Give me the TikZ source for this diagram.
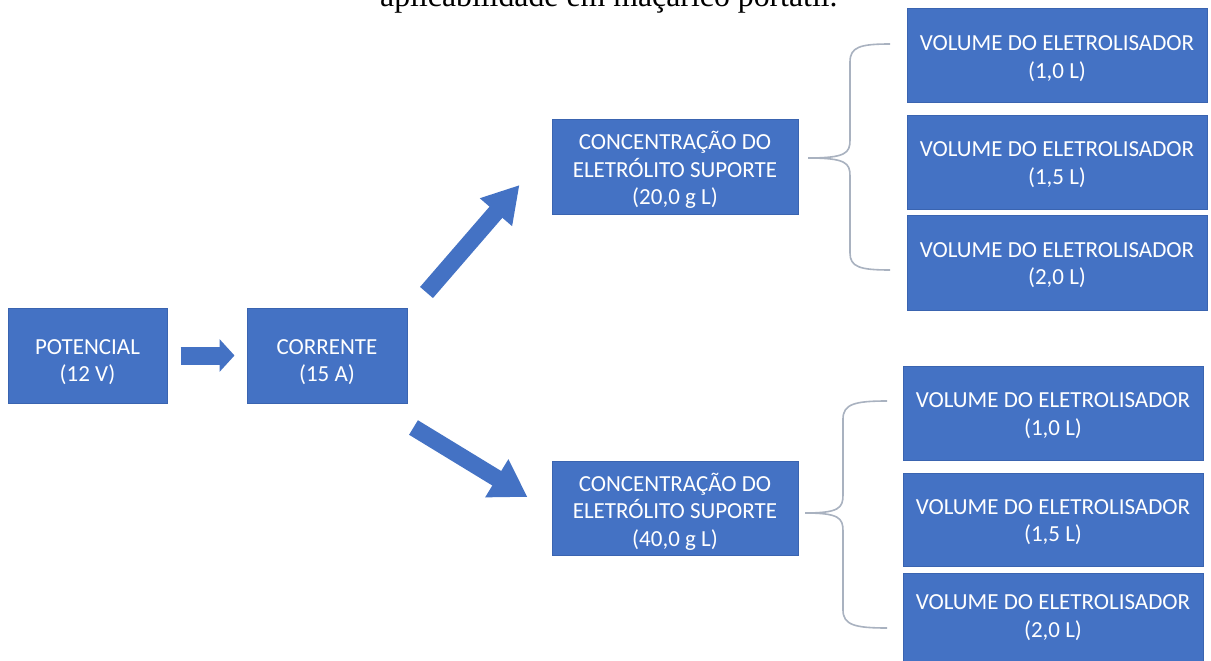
\documentclass[tikz,border=0pt]{standalone}
\usepackage{fontspec}
\setmainfont{Carlito}
\newfontfamily\titlefont{Liberation Serif}
\usetikzlibrary{arrows.meta,calc}
\definecolor{boxblue}{HTML}{4472C4}
\definecolor{boxedge}{HTML}{3A64B0}
\definecolor{bracegray}{HTML}{A9B2C0}
\newcommand{\boxtext}[2][-5pt]{\raisebox{#1}[\height][\depth]{\begin{tabular}{@{}c@{}}#2\end{tabular}}}
\tikzset{
  box/.style={fill=boxblue, draw=boxedge, line width=1pt, text=white, align=center,
    inner sep=0pt, font=\fontsize{23}{27.5}\selectfont},
  barrow/.style={draw=boxblue, line width=17pt},
  bracestyle/.style={draw=bracegray, line width=1.6pt},
}
\begin{document}
\begin{tikzpicture}[x=1pt,y=-1pt]
\useasboundingbox (0,0) rectangle (1211,661);
\fill[white] (0,0) rectangle (1211,661);
\begin{scope}
\clip (0,0) rectangle (1211,661);
\node[anchor=base west, inner sep=0pt, font=\titlefont\fontsize{31.8}{36}\selectfont] (title) at (380,7) {aplicabilidade em maçarico portátil.};
\end{scope}

\node[box, minimum width=159pt, minimum height=95pt] (pot) at (87.5,355.5) {\boxtext[-7pt]{POTENCIAL\\(12 V)}};
\node[box, minimum width=160pt, minimum height=95pt] (cor) at (327,355.5) {\boxtext[-7pt]{CORRENTE\\(15 A)}};
\node[box, minimum width=246pt, minimum height=95pt] (conc1) at (675,166.5) {\boxtext{CONCENTRAÇÃO DO\\ELETRÓLITO SUPORTE\\(20,0 g L)}};
\node[box, minimum width=246pt, minimum height=94pt] (conc2) at (675,508) {\boxtext{CONCENTRAÇÃO DO\\ELETRÓLITO SUPORTE\\(40,0 g L)}};

\node[box, minimum width=300pt, minimum height=94pt] (v1a) at (1057,56) {\boxtext[-3pt]{VOLUME DO ELETROLISADOR\\(1,0 L)}};
\node[box, minimum width=300pt, minimum height=94pt] (v1b) at (1057,162) {\boxtext[-3pt]{VOLUME DO ELETROLISADOR\\(1,5 L)}};
\node[box, minimum width=300pt, minimum height=95pt] (v1c) at (1057,262.5) {\boxtext[-3pt]{VOLUME DO ELETROLISADOR\\(2,0 L)}};

\node[box, minimum width=300pt, minimum height=94pt] (v2a) at (1053,413) {\boxtext[-3pt]{VOLUME DO ELETROLISADOR\\(1,0 L)}};
\node[box, minimum width=300pt, minimum height=93pt] (v2b) at (1053,519.5) {\boxtext[-3pt]{VOLUME DO ELETROLISADOR\\(1,5 L)}};
\node[box, minimum width=300pt, minimum height=88pt] (v2c) at (1053,617) {\boxtext[-1pt]{VOLUME DO ELETROLISADOR\\(2,0 L)}};

% block arrows
\draw[barrow, line width=18pt, -{Triangle[length=15pt,width=32pt]}, shorten <=13pt, shorten >=12pt] (pot) -- (cor);

\coordinate (t1) at ($(cor.north east)+(19,-15)$);
\coordinate (h1) at ($(conc1.west)+(-32,18.5)$);
\draw[barrow, -{Triangle[length=36pt,width=40pt]}] (t1) -- (h1);

\coordinate (t2) at ($(cor.south east)+(6,24)$);
\coordinate (h2) at ($(conc2.west)+(-24,-11)$);
\draw[barrow, -{Triangle[length=36pt,width=42pt]}] (t2) -- (h2);

% braces
\coordinate (b1) at (808,158);
\draw[bracestyle] (890,44) .. controls (860,44) and (850,47) .. (850,62) -- (850,140)
  .. controls (850,153) and (846,158) .. (b1)
  .. controls (846,158) and (850,163) .. (850,176) -- (850,253)
  .. controls (850,267) and (860,270) .. (890,270);

\coordinate (b2) at (805,513);
\draw[bracestyle] (887,401) .. controls (855,401) and (843,404) .. (843,419) -- (843,495)
  .. controls (843,508) and (839,513) .. (b2)
  .. controls (839,513) and (843,518) .. (843,531) -- (843,610)
  .. controls (843,625) and (855,628) .. (887,628);
\end{tikzpicture}
\end{document}
